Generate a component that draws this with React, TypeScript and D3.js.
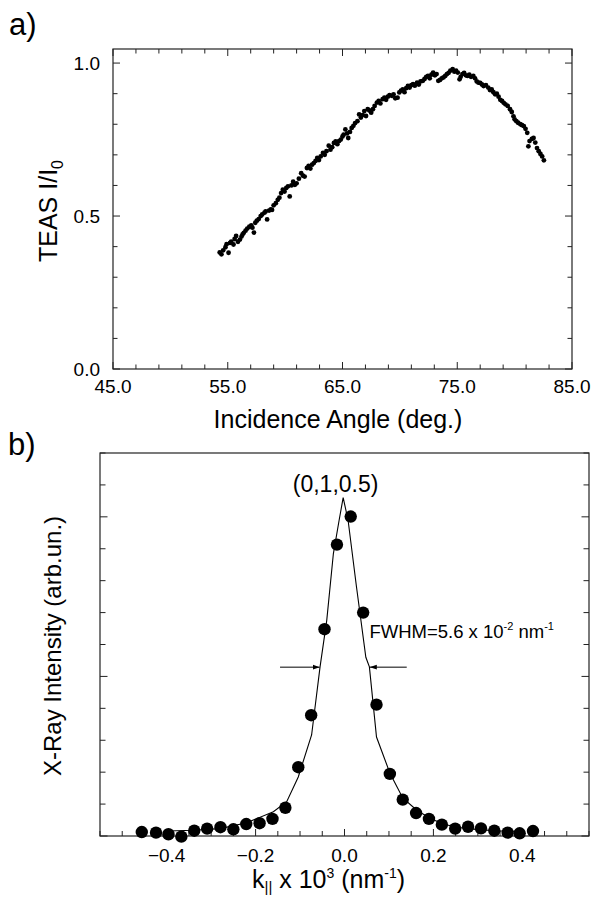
import React from 'react';
import * as d3 from 'd3';

// ---------- Panel a data (TEAS) ----------
const anglesA: number[] = [
  54.3, 54.45, 54.6, 54.8, 54.9, 55.07, 55.2, 55.3, 55.5, 55.6, 55.73, 55.89, 56.06, 56.2, 56.29, 56.4,
  56.55, 56.7, 56.88, 57.05, 57.15, 57.28, 57.4, 57.54, 57.7, 57.87, 58.0, 58.2, 58.3, 58.43, 58.6, 58.75,
  58.86, 59.0, 59.19, 59.36, 59.5, 59.65, 59.8, 59.95, 60.1, 60.25, 60.4, 60.55, 60.7, 60.85, 61.0, 61.2,
  61.4, 61.55, 61.7, 61.9, 62.05, 62.2, 62.35, 62.5, 62.65, 62.8, 62.95, 63.1, 63.3, 63.45, 63.6, 63.8,
  63.95, 64.1, 64.25, 64.4, 64.55, 64.7, 64.85, 65.0, 65.1, 65.25, 65.4, 65.5, 65.65, 65.8, 65.95, 66.1,
  66.3, 66.45, 66.6, 66.75, 66.9, 67.05, 67.2, 67.35, 67.5, 67.65, 67.8, 68.0, 68.15, 68.3, 68.5, 68.65,
  68.8, 68.95, 69.1, 69.3, 69.45, 69.6, 69.8, 69.95, 70.1, 70.25, 70.4, 70.55, 70.7, 70.85, 71.0, 71.15,
  71.3, 71.5, 71.65, 71.8, 72.0, 72.15, 72.3, 72.45, 72.6, 72.75, 72.9, 73.05, 73.2, 73.35, 73.5, 73.65,
  73.8, 73.95, 74.1, 74.25, 74.4, 74.6, 74.75, 74.9, 75.05, 75.2, 75.3, 75.45, 75.6, 75.75, 75.9, 76.05,
  76.2, 76.4, 76.55, 76.7, 76.85, 77.0, 77.15, 77.3, 77.5, 77.7, 77.85, 78.0, 78.15, 78.3, 78.45, 78.6,
  78.75, 78.9, 79.05, 79.2, 79.4, 79.6, 79.75, 79.9, 80.0, 80.15, 80.3, 80.5, 80.65, 80.8, 80.95, 81.1,
  81.2, 81.3, 81.5, 81.65, 81.8, 81.95, 82.1, 82.25, 82.4, 82.55,
];
const teasA: number[] = [
  0.381, 0.375, 0.388, 0.398, 0.408, 0.38, 0.412, 0.416, 0.407, 0.425, 0.435, 0.416, 0.423, 0.433, 0.44, 0.445,
  0.452, 0.459, 0.465, 0.469, 0.462, 0.446, 0.478, 0.485, 0.49, 0.5, 0.505, 0.511, 0.515, 0.489, 0.518, 0.522,
  0.52, 0.535, 0.542, 0.553, 0.56, 0.575, 0.586, 0.58, 0.592, 0.597, 0.564, 0.6, 0.612, 0.602, 0.607, 0.622,
  0.64, 0.632, 0.629, 0.657, 0.664, 0.655, 0.668, 0.673, 0.68, 0.69, 0.683, 0.695, 0.706, 0.7, 0.712, 0.73,
  0.717, 0.725, 0.739, 0.744, 0.735, 0.745, 0.75, 0.76, 0.766, 0.783, 0.77, 0.755, 0.775, 0.788, 0.795, 0.804,
  0.81, 0.832, 0.822, 0.83, 0.843, 0.827, 0.849, 0.845, 0.838, 0.849, 0.86, 0.871, 0.876, 0.868, 0.882, 0.887,
  0.88, 0.89, 0.895, 0.893, 0.898, 0.885, 0.887, 0.904, 0.91, 0.914, 0.905, 0.918, 0.925, 0.92, 0.928, 0.931,
  0.926, 0.936, 0.93, 0.94, 0.942, 0.948, 0.955, 0.958, 0.95, 0.962, 0.969, 0.96, 0.964, 0.942, 0.945, 0.95,
  0.953, 0.958, 0.964, 0.968, 0.975, 0.98, 0.972, 0.975, 0.969, 0.947, 0.955, 0.964, 0.968, 0.96, 0.958, 0.962,
  0.955, 0.958, 0.95, 0.94, 0.936, 0.935, 0.93, 0.925, 0.928, 0.92, 0.912, 0.914, 0.905, 0.898, 0.9, 0.89,
  0.88, 0.876, 0.87, 0.865, 0.86, 0.849, 0.84, 0.826, 0.816, 0.81, 0.805, 0.8, 0.797, 0.794, 0.785, 0.772,
  0.728, 0.745, 0.752, 0.755, 0.74, 0.722, 0.712, 0.703, 0.695, 0.682,
];
const xTickLabelsA: number[] = [45, 55, 65, 75, 85];
const yTickLabelsA: number[] = [0, 0.5, 1.0];

// ---------- Panel b data (X-ray) ----------
const kB: number[] = [
  -0.456, -0.424, -0.396, -0.367, -0.338, -0.309, -0.279, -0.25, -0.221, -0.191, -0.162, -0.133, -0.104, -0.075,
  -0.045, -0.017, 0.014, 0.042, 0.072, 0.102, 0.131, 0.161, 0.19, 0.219, 0.249, 0.278, 0.307, 0.337, 0.367, 0.394, 0.424,
];
const intensityB: number[] = [
  0.025, 0.021, 0.011, -0.004, 0.033, 0.046, 0.055, 0.042, 0.075, 0.08, 0.107, 0.177, 0.431, 0.757,
  1.296, 1.826, 2.002, 1.4, 0.823, 0.389, 0.228, 0.144, 0.107, 0.071, 0.046, 0.058, 0.048, 0.033, 0.021, 0.017, 0.031,
];
const fitK: number[] = [
  -0.397, -0.34, -0.28, -0.22, -0.16, -0.13, -0.104, -0.074, -0.055, -0.04, -0.025, -0.012, -0.003,
  0.008, 0.027, 0.048, 0.056, 0.072, 0.102, 0.131, 0.162, 0.192, 0.222, 0.252, 0.3, 0.35, 0.4,
];
const fitI: number[] = [
  0.031, 0.036, 0.046, 0.083, 0.152, 0.215, 0.37, 0.633, 1.06, 1.35, 1.77, 1.98, 2.12,
  1.98, 1.56, 1.12, 1.06, 0.62, 0.395, 0.238, 0.163, 0.111, 0.075, 0.055, 0.04, 0.032, 0.028,
];
const xTickLabelsB: number[] = [-0.4, -0.2, 0, 0.2, 0.4];

const FONT = "'Liberation Sans', Arial, Helvetica, sans-serif";

export default function App() {
  // Panel a scales
  const xA = d3.scaleLinear().domain([45, 85]).range([113, 572]);
  const yA = d3.scaleLinear().domain([0, 1.046]).range([369, 49]);
  // Panel b scales
  const xB = d3.scaleLinear().domain([-0.55, 0.55]).range([100, 589]);
  const yB = d3.scaleLinear().domain([0, 2.4]).range([836, 453]);

  const fmt = d3.format('.1f');
  const axisColor = '#222';

  const minorXA = d3.range(45, 85.001, 2);
  const minorYA = d3.range(0, 1.0001, 0.1);
  const minorXB = d3.range(-0.55, 0.5501, 0.05);
  const minorYB = d3.range(0, 2.4001, 0.2);

  const fitLine = d3
    .line<number>()
    .x((_, i) => xB(fitK[i]))
    .y((_, i) => yB(fitI[i]))
    .curve(d3.curveLinear);

  const [a0, a1] = xA.range();
  const [aBot, aTop] = yA.range();
  const [b0, b1] = xB.range();
  const [bBot, bTop] = yB.range();

  const halfY = yB(1.058);

  return (
    <svg width={593} height={897} style={{ display: 'block', position: 'absolute', left: 0, top: 0 }} fontFamily={FONT}>
      <rect x={0} y={0} width={593} height={897} fill="#fff" />
      <defs>
        <marker id="arr" viewBox="0 0 10 10" refX="10" refY="5" markerWidth="7" markerHeight="7" orient="auto-start-reverse" markerUnits="userSpaceOnUse">
          <path d="M0,1.5 L10,5 L0,8.5 z" fill="#000" />
        </marker>
      </defs>

      {/* ===== Panel a ===== */}
      <text x={9} y={35} fontSize={31}>a)</text>
      <rect x={a0} y={aTop} width={a1 - a0} height={aBot - aTop} fill="none" stroke={axisColor} strokeWidth={1.2} />
      {minorXA.map((v) => {
        const major = Math.abs((v - 45) % 10) < 1e-6;
        const L = major ? 7 : 4.5;
        return (
          <g key={'xa' + v}>
            <line x1={xA(v)} x2={xA(v)} y1={aBot} y2={aBot - L} stroke={axisColor} strokeWidth={1} />
            <line x1={xA(v)} x2={xA(v)} y1={aTop} y2={aTop + L} stroke={axisColor} strokeWidth={1} />
          </g>
        );
      })}
      {minorYA.map((v) => {
        const major = Math.abs(Math.round(v * 10) % 5) === 0;
        const L = major ? 7 : 4.5;
        return (
          <g key={'ya' + v}>
            <line x1={a0} x2={a0 + L} y1={yA(v)} y2={yA(v)} stroke={axisColor} strokeWidth={1} />
            <line x1={a1} x2={a1 - L} y1={yA(v)} y2={yA(v)} stroke={axisColor} strokeWidth={1} />
          </g>
        );
      })}
      {xTickLabelsA.map((v) => (
        <text key={'xla' + v} x={xA(v)} y={393} fontSize={19} textAnchor="middle">{fmt(v)}</text>
      ))}
      {yTickLabelsA.map((v) => (
        <text key={'yla' + v} x={a0 - 13} y={yA(v) + 7} fontSize={19} textAnchor="end">{fmt(v)}</text>
      ))}
      <text x={338} y={428} fontSize={25} textAnchor="middle">Incidence Angle (deg.)</text>
      <text transform={`translate(57,211) rotate(-90)`} fontSize={25} textAnchor="middle">
        TEAS I/I<tspan fontSize={16} dy={6}>0</tspan>
      </text>
      {anglesA.map((v, i) => (
        <circle key={'pa' + i} cx={xA(v)} cy={yA(teasA[i])} r={2.4} fill="#000" />
      ))}

      {/* ===== Panel b ===== */}
      <text x={8} y={455} fontSize={31}>b)</text>
      <rect x={b0} y={bTop} width={b1 - b0} height={bBot - bTop} fill="none" stroke={axisColor} strokeWidth={1.2} />
      {minorXB.map((v) => {
        const major = Math.abs(Math.round(v * 100) % 20) === 0;
        const L = major ? 7 : 5;
        return <line key={'xb' + v} x1={xB(v)} x2={xB(v)} y1={bBot} y2={bBot - L} stroke={axisColor} strokeWidth={1} />;
      })}
      {minorYB.map((v) => {
        const major = Math.abs(Math.round(v * 10) % 10) === 0;
        const L = major ? 7.5 : 5.5;
        return (
          <g key={'yb' + v}>
            <line x1={b0} x2={b0 + L} y1={yB(v)} y2={yB(v)} stroke={axisColor} strokeWidth={1} />
            <line x1={b1} x2={b1 - L} y1={yB(v)} y2={yB(v)} stroke={axisColor} strokeWidth={1} />
          </g>
        );
      })}
      {xTickLabelsB.map((v) => (
        <text key={'xlb' + v} x={xB(v)} y={862} fontSize={19} textAnchor="middle">{fmt(v)}</text>
      ))}
      <text x={252} y={888} fontSize={25}>
        k<tspan fontSize={15} dy={4}>||</tspan><tspan dy={-4}> x 10</tspan><tspan fontSize={14} dy={-10}>3</tspan><tspan dy={10}> (nm</tspan><tspan fontSize={14} dy={-10}>-1</tspan><tspan dy={10}>)</tspan>
      </text>
      <text transform={`translate(61,646) rotate(-90)`} fontSize={24} textAnchor="middle">X-Ray Intensity (arb.un.)</text>

      <path d={fitLine(fitK) || ''} fill="none" stroke="#000" strokeWidth={1.1} />
      {kB.map((v, i) => (
        <circle key={'pb' + i} cx={xB(v)} cy={yB(intensityB[i])} r={6.2} fill="#000" />
      ))}

      <text x={xB(-0.02)} y={492} fontSize={23} textAnchor="middle">(0,1,0.5)</text>
      <text x={xB(0.056)} y={638} fontSize={18.5}>
        FWHM=5.6 x 10<tspan fontSize={11} dy={-8}>-2</tspan><tspan dy={8}> nm</tspan><tspan fontSize={11} dy={-8}>-1</tspan>
      </text>
      <line x1={xB(-0.145)} x2={xB(-0.056)} y1={halfY} y2={halfY} stroke="#000" strokeWidth={1} markerEnd="url(#arr)" />
      <line x1={xB(0.14)} x2={xB(0.057)} y1={halfY} y2={halfY} stroke="#000" strokeWidth={1} markerEnd="url(#arr)" />
    </svg>
  );
}
